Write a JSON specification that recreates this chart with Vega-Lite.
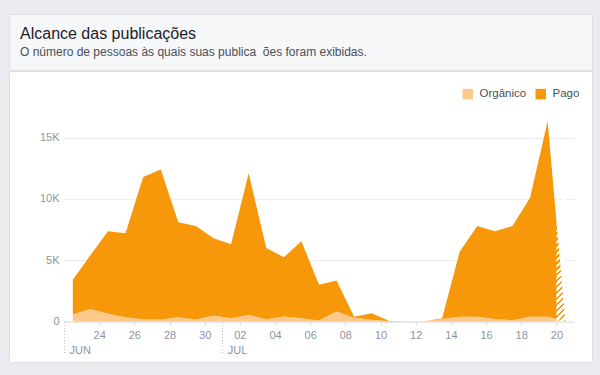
{
  "$schema": "https://vega.github.io/schema/vega-lite/v6.json",
  "width": 583,
  "height": 348,
  "autosize": {"type": "none"},
  "padding": {"left": 9, "top": 14, "right": 8, "bottom": 13},
  "background": "#e9ebee",
  "view": {
    "fill": {
      "gradient": "linear", "x1": 0, "y1": 0, "x2": 0, "y2": 1,
      "stops": [
        {"offset": 0, "color": "#f6f7f9"},
        {"offset": 0.1609, "color": "#f6f7f9"},
        {"offset": 0.1609, "color": "#dddfe2"},
        {"offset": 0.1638, "color": "#dddfe2"},
        {"offset": 0.1638, "color": "#ffffff"},
        {"offset": 1, "color": "#ffffff"}
      ]
    },
    "stroke": "#dddfe2",
    "strokeWidth": 1
  },
  "title": {
    "text": "Alcance das publicações",
    "subtitle": "O número de pessoas às quais suas publica\u00a0\u00a0ões foram exibidas.",
    "anchor": "start",
    "frame": "group",
    "orient": "top",
    "dx": 11,
    "offset": -44,
    "font": "Liberation Sans",
    "fontSize": 16,
    "fontWeight": "normal",
    "color": "#1d2129",
    "subtitleFont": "Liberation Sans",
    "subtitleFontSize": 12,
    "subtitleColor": "#4b4f56",
    "subtitlePadding": 5
  },
  "config": {
    "font": "Liberation Sans",
    "axis": {"labelFont": "Liberation Sans", "labelColor": "#90949c", "labelFontSize": 11, "title": null}
  },
  "resolve": {"axis": {"x": "independent"}},
  "layer": [
    {
      "data": {
        "values": [
          {"d": "2017-06-22T12:00", "Orgânico": 570, "Pago": 2830},
          {"d": "2017-06-23T12:00", "Orgânico": 1030, "Pago": 4370},
          {"d": "2017-06-24T12:00", "Orgânico": 630, "Pago": 6740},
          {"d": "2017-06-25T12:00", "Orgânico": 350, "Pago": 6850},
          {"d": "2017-06-26T12:00", "Orgânico": 190, "Pago": 11610},
          {"d": "2017-06-27T12:00", "Orgânico": 160, "Pago": 12240},
          {"d": "2017-06-28T12:00", "Orgânico": 350, "Pago": 7750},
          {"d": "2017-06-29T12:00", "Orgânico": 160, "Pago": 7640},
          {"d": "2017-06-30T12:00", "Orgânico": 490, "Pago": 6310},
          {"d": "2017-07-01T12:00", "Orgânico": 270, "Pago": 6030},
          {"d": "2017-07-02T12:00", "Orgânico": 540, "Pago": 11560},
          {"d": "2017-07-03T12:00", "Orgânico": 190, "Pago": 5810},
          {"d": "2017-07-04T12:00", "Orgânico": 410, "Pago": 4840},
          {"d": "2017-07-05T12:00", "Orgânico": 270, "Pago": 6280},
          {"d": "2017-07-06T12:00", "Orgânico": 80, "Pago": 2920},
          {"d": "2017-07-07T12:00", "Orgânico": 820, "Pago": 2530},
          {"d": "2017-07-08T12:00", "Orgânico": 300, "Pago": 80},
          {"d": "2017-07-09T12:00", "Orgânico": 150, "Pago": 530},
          {"d": "2017-07-10T12:00", "Orgânico": 30, "Pago": 20},
          {"d": "2017-07-11T12:00", "Orgânico": 20, "Pago": 0},
          {"d": "2017-07-12T12:00", "Orgânico": 20, "Pago": 0},
          {"d": "2017-07-13T12:00", "Orgânico": 200, "Pago": 70},
          {"d": "2017-07-14T12:00", "Orgânico": 380, "Pago": 5320},
          {"d": "2017-07-15T12:00", "Orgânico": 380, "Pago": 7420},
          {"d": "2017-07-16T12:00", "Orgânico": 200, "Pago": 7170},
          {"d": "2017-07-17T12:00", "Orgânico": 100, "Pago": 7700},
          {"d": "2017-07-18T12:00", "Orgânico": 380, "Pago": 9720},
          {"d": "2017-07-19T12:00", "Orgânico": 380, "Pago": 15970},
          {"d": "2017-07-20T12:00", "Orgânico": 50, "Pago": 50}
        ]
      },
      "transform": [{"fold": ["Orgânico", "Pago"], "as": ["tipo", "valor"]}],
      "mark": {"type": "area", "interpolate": "linear", "opacity": 1},
      "encoding": {
        "x": {
          "field": "d", "type": "temporal",
          "scale": {
            "domain": [{"year": 2017, "month": 6, "date": 22}, {"year": 2017, "month": 7, "date": 21}],
            "range": [55, 565]
          },
          "axis": {
            "orient": "bottom",
            "offset": -40.5,
            "values": [
              {"year": 2017, "month": 6, "date": 24}, {"year": 2017, "month": 6, "date": 26},
              {"year": 2017, "month": 6, "date": 28}, {"year": 2017, "month": 6, "date": 30},
              {"year": 2017, "month": 7, "date": 2}, {"year": 2017, "month": 7, "date": 4},
              {"year": 2017, "month": 7, "date": 6}, {"year": 2017, "month": 7, "date": 8},
              {"year": 2017, "month": 7, "date": 10}, {"year": 2017, "month": 7, "date": 12},
              {"year": 2017, "month": 7, "date": 14}, {"year": 2017, "month": 7, "date": 16},
              {"year": 2017, "month": 7, "date": 18}, {"year": 2017, "month": 7, "date": 20}
            ],
            "format": "%d",
            "grid": false,
            "domain": true,
            "domainColor": "#dddfe2",
            "ticks": true,
            "tickSize": 4,
            "tickColor": "#dddfe2",
            "labelPadding": 4,
            "labelOverlap": false,
            "labelFlush": false
          }
        },
        "y": {
          "field": "valor", "type": "quantitative", "stack": "zero",
          "scale": {"domain": [0, 15000], "range": [307.5, 123.7], "nice": false, "zero": true},
          "axis": {
            "orient": "left",
            "offset": -54,
            "values": [0, 5000, 10000, 15000],
            "labelExpr": "datum.value == 0 ? '0' : (datum.value / 1000) + 'K'",
            "domain": false,
            "ticks": false,
            "tickSize": 0,
            "labelPadding": 4,
            "grid": true,
            "gridColor": "#ebedf0",
            "gridWidth": 1
          }
        },
        "color": {
          "field": "tipo", "type": "nominal",
          "scale": {"domain": ["Orgânico", "Pago"], "range": ["#fec98b", "#f7980a"]},
          "legend": {
            "orient": "none",
            "legendX": 453,
            "legendY": 74,
            "direction": "horizontal",
            "title": null,
            "symbolType": "square",
            "symbolSize": 110,
            "symbolStrokeWidth": 0,
            "symbolOpacity": 1,
            "labelFont": "Liberation Sans",
            "labelFontSize": 11.5,
            "labelColor": "#4b4f56",
            "labelOffset": 6,
            "columnPadding": 8
          }
        },
        "order": {"field": "tipo", "sort": "ascending"}
      }
    },
    {
      "data": {"values": [{"parcial": "hoje"}]},
      "mark": {
        "type": "rect",
        "fill": {
          "gradient": "linear", "x1": 0, "y1": 0, "x2": 0.0768, "y2": 1.0665,
          "stops": [
            {"offset": 0, "color": "#ffffff"}, {"offset": 0.025, "color": "#ffffff"}, {"offset": 0.025, "color": "rgba(255,255,255,0)"}, {"offset": 0.04545, "color": "rgba(255,255,255,0)"},
            {"offset": 0.04545, "color": "#ffffff"}, {"offset": 0.07045, "color": "#ffffff"}, {"offset": 0.07045, "color": "rgba(255,255,255,0)"}, {"offset": 0.09091, "color": "rgba(255,255,255,0)"},
            {"offset": 0.09091, "color": "#ffffff"}, {"offset": 0.11591, "color": "#ffffff"}, {"offset": 0.11591, "color": "rgba(255,255,255,0)"}, {"offset": 0.13636, "color": "rgba(255,255,255,0)"},
            {"offset": 0.13636, "color": "#ffffff"}, {"offset": 0.16136, "color": "#ffffff"}, {"offset": 0.16136, "color": "rgba(255,255,255,0)"}, {"offset": 0.18182, "color": "rgba(255,255,255,0)"},
            {"offset": 0.18182, "color": "#ffffff"}, {"offset": 0.20682, "color": "#ffffff"}, {"offset": 0.20682, "color": "rgba(255,255,255,0)"}, {"offset": 0.22727, "color": "rgba(255,255,255,0)"},
            {"offset": 0.22727, "color": "#ffffff"}, {"offset": 0.25227, "color": "#ffffff"}, {"offset": 0.25227, "color": "rgba(255,255,255,0)"}, {"offset": 0.27273, "color": "rgba(255,255,255,0)"},
            {"offset": 0.27273, "color": "#ffffff"}, {"offset": 0.29773, "color": "#ffffff"}, {"offset": 0.29773, "color": "rgba(255,255,255,0)"}, {"offset": 0.31818, "color": "rgba(255,255,255,0)"},
            {"offset": 0.31818, "color": "#ffffff"}, {"offset": 0.34318, "color": "#ffffff"}, {"offset": 0.34318, "color": "rgba(255,255,255,0)"}, {"offset": 0.36364, "color": "rgba(255,255,255,0)"},
            {"offset": 0.36364, "color": "#ffffff"}, {"offset": 0.38864, "color": "#ffffff"}, {"offset": 0.38864, "color": "rgba(255,255,255,0)"}, {"offset": 0.40909, "color": "rgba(255,255,255,0)"},
            {"offset": 0.40909, "color": "#ffffff"}, {"offset": 0.43409, "color": "#ffffff"}, {"offset": 0.43409, "color": "rgba(255,255,255,0)"}, {"offset": 0.45455, "color": "rgba(255,255,255,0)"},
            {"offset": 0.45455, "color": "#ffffff"}, {"offset": 0.47955, "color": "#ffffff"}, {"offset": 0.47955, "color": "rgba(255,255,255,0)"}, {"offset": 0.5, "color": "rgba(255,255,255,0)"},
            {"offset": 0.5, "color": "#ffffff"}, {"offset": 0.525, "color": "#ffffff"}, {"offset": 0.525, "color": "rgba(255,255,255,0)"}, {"offset": 0.54545, "color": "rgba(255,255,255,0)"},
            {"offset": 0.54545, "color": "#ffffff"}, {"offset": 0.57045, "color": "#ffffff"}, {"offset": 0.57045, "color": "rgba(255,255,255,0)"}, {"offset": 0.59091, "color": "rgba(255,255,255,0)"},
            {"offset": 0.59091, "color": "#ffffff"}, {"offset": 0.61591, "color": "#ffffff"}, {"offset": 0.61591, "color": "rgba(255,255,255,0)"}, {"offset": 0.63636, "color": "rgba(255,255,255,0)"},
            {"offset": 0.63636, "color": "#ffffff"}, {"offset": 0.66136, "color": "#ffffff"}, {"offset": 0.66136, "color": "rgba(255,255,255,0)"}, {"offset": 0.68182, "color": "rgba(255,255,255,0)"},
            {"offset": 0.68182, "color": "#ffffff"}, {"offset": 0.70682, "color": "#ffffff"}, {"offset": 0.70682, "color": "rgba(255,255,255,0)"}, {"offset": 0.72727, "color": "rgba(255,255,255,0)"},
            {"offset": 0.72727, "color": "#ffffff"}, {"offset": 0.75227, "color": "#ffffff"}, {"offset": 0.75227, "color": "rgba(255,255,255,0)"}, {"offset": 0.77273, "color": "rgba(255,255,255,0)"},
            {"offset": 0.77273, "color": "#ffffff"}, {"offset": 0.79773, "color": "#ffffff"}, {"offset": 0.79773, "color": "rgba(255,255,255,0)"}, {"offset": 0.81818, "color": "rgba(255,255,255,0)"},
            {"offset": 0.81818, "color": "#ffffff"}, {"offset": 0.84318, "color": "#ffffff"}, {"offset": 0.84318, "color": "rgba(255,255,255,0)"}, {"offset": 0.86364, "color": "rgba(255,255,255,0)"},
            {"offset": 0.86364, "color": "#ffffff"}, {"offset": 0.88864, "color": "#ffffff"}, {"offset": 0.88864, "color": "rgba(255,255,255,0)"}, {"offset": 0.90909, "color": "rgba(255,255,255,0)"},
            {"offset": 0.90909, "color": "#ffffff"}, {"offset": 0.93409, "color": "#ffffff"}, {"offset": 0.93409, "color": "rgba(255,255,255,0)"}, {"offset": 0.95455, "color": "rgba(255,255,255,0)"},
            {"offset": 0.95455, "color": "#ffffff"}, {"offset": 0.97955, "color": "#ffffff"}, {"offset": 0.97955, "color": "rgba(255,255,255,0)"}, {"offset": 1, "color": "rgba(255,255,255,0)"}
          ]
        }
      },
      "encoding": {
        "x": {
          "datum": {"year": 2017, "month": 7, "date": 20}, "type": "temporal",
          "axis": {
            "orient": "bottom",
            "offset": -40.5,
            "values": [{"year": 2017, "month": 6, "date": 22}, {"year": 2017, "month": 7, "date": 1}],
            "labelExpr": "upper(timeFormat(datum.value, '%b'))",
            "grid": false,
            "domain": false,
            "ticks": true,
            "tickSize": 33,
            "tickDash": [1, 2],
            "tickColor": "#bec3c9",
            "labelAlign": "left",
            "labelOffset": 5,
            "labelPadding": -10,
            "labelOverlap": false,
            "labelFlush": false
          }
        },
        "x2": {"datum": {"year": 2017, "month": 7, "date": 20, "hours": 12}},
        "y": {"datum": 0, "type": "quantitative"},
        "y2": {"datum": 10000}
      }
    }
  ]
}
